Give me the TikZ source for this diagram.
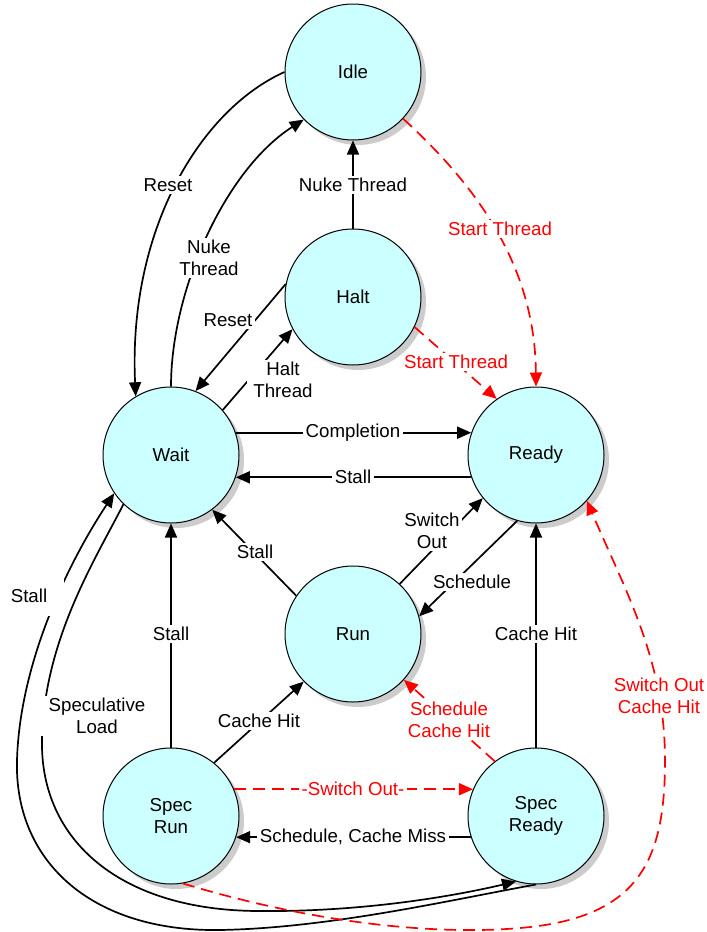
\documentclass[tikz,border=0pt]{standalone}
\usepackage{fontspec}
\setmainfont{Liberation Sans}
\usetikzlibrary{arrows.meta,shadows}
\definecolor{stfill}{HTML}{CCFFFF}
\begin{document}
\begin{tikzpicture}[x=1pt,y=-1pt,
  stnode/.style={circle,draw=black,line width=1pt,fill=stfill,minimum size=136pt,inner sep=0pt,align=center,
    font=\fontsize{18.7}{21.5}\selectfont,
    drop shadow={shadow xshift=5pt,shadow yshift=-5pt,fill=black!20,opacity=1}},
  cline/.style={line width=1.7pt,draw=black},
  arr/.style={cline,-{Triangle[length=14pt,width=12pt]}},
  rdash/.style={line width=1.7pt,draw=red,dash pattern=on 12pt off 7pt,-{Triangle[length=14pt,width=12pt]}},
  lbl/.style={fill=white,inner sep=2.5pt,align=center,font=\fontsize{18.7}{21.5}\selectfont},
  rlbl/.style={lbl,text=red}]
\useasboundingbox (0,0) rectangle (707,932);
% states
\node[stnode] (idle) at (353,72) {Idle};
\node[stnode] (halt) at (353,297) {Halt};
\node[stnode] (wait) at (171,455) {Wait};
\node[stnode] (ready) at (536,455) {Ready};
\node[stnode] (run) at (353,634) {Run};
\node[stnode] (specrun) at (171,816) {Spec\\Run};
\node[stnode] (specready) at (536,816) {Spec\\Ready};
% black connectors
\draw[arr] (idle.180) .. controls (200,110) and (128,230) .. (wait.121);
\draw[arr] (wait.90) .. controls (171,290) and (225,170) .. (idle.224);
\draw[arr] (halt.north) -- (idle.south);
\draw[arr] (halt.169) -- (wait.69);
\draw[arr] (wait.41) -- (halt.208);
\draw[arr] (wait.19) -- (ready.161);
\draw[arr] (ready.199) -- (wait.341);
\draw[arr] (run.47) -- (ready.219);
\draw[arr] (ready.254) -- (run.15);
\draw[arr] (run.146) -- (wait.307);
\draw[arr] (specrun.north) -- (wait.south);
\draw[arr] (specrun.51) -- (run.224);
\draw[arr] (specready.198) -- (specrun.342);
\draw[arr] (specready.north) -- (ready.south);
\draw[arr] (specready.south) .. controls (450,900) and (330,928) .. (220,930)
  .. controls (90,932) and (14,860) .. (17,760)
  .. controls (20,660) and (70,560) .. (wait.214);
\draw[arr] (wait.226) .. controls (95,560) and (44,640) .. (42,740)
  .. controls (40,840) and (120,911) .. (260,911)
  .. controls (360,912) and (450,897) .. (specready.253);
% red dashed connectors
\draw[rdash] (specrun.23) -- (specready.157);
\draw[rdash] (specready.127) -- (run.318);
\draw[rdash] (specrun.280) .. controls (320,925) and (440,935) .. (520,928)
  .. controls (640,918) and (665,860) .. (665,760)
  .. controls (665,660) and (625,590) .. (ready.318);
\draw[rdash] (idle.317) .. controls (470,180) and (535,260) .. (ready.north);
\draw[rdash] (halt.334) -- (ready.125);
% labels
\node[lbl] (lresetA) at (168,185) {Reset};
\node[lbl] (lnukeA) at (209,258) {Nuke\\Thread};
\node[lbl] (lnukeB) at (353,185) {Nuke Thread};
\node[lbl] (lresetB) at (228,320) {Reset};
\node[lbl,inner xsep=6pt] (lhalt) at (283,380) {Halt\\Thread};
\node[lbl] (lcompl) at (353,433) {Completion};
\node[lbl] (lstallA) at (353,477) {Stall};
\node[lbl] (lswitch) at (432,531) {Switch\\Out};
\node[lbl] (lsched) at (472,582) {Schedule};
\node[lbl] (lstallB) at (255,552) {Stall};
\node[lbl] (lstallC) at (171,634) {Stall};
\node[lbl] (lcacheA) at (259,721) {Cache Hit};
\node[lbl] (lmiss) at (353,837) {Schedule, Cache Miss};
\node[lbl] (lcacheB) at (536,634) {Cache Hit};
\node[lbl,minimum width=70pt,minimum height=40pt] (lstallD) at (29,596) {Stall};
\node[lbl,inner xsep=8pt] (lspec) at (97,716) {Speculative\\Load};
\node[rlbl] (lswout) at (353,789) {-Switch Out-};
\node[rlbl] (lschedhit) at (449,720) {Schedule\\Cache Hit};
\node[rlbl] (lswouthit) at (659,696) {Switch Out\\Cache Hit};
\node[rlbl] (lstartA) at (500,229) {Start Thread};
\node[rlbl] (lstartB) at (456,362) {Start Thread};
\end{tikzpicture}
\end{document}
